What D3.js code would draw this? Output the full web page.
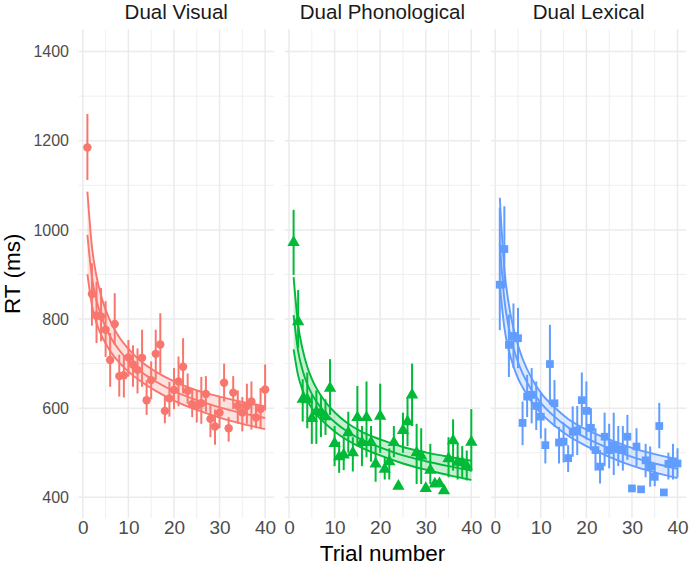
<!DOCTYPE html>
<head>
  <meta charset="utf-8">
</head>
<style>
body {
  margin: 0;
  background: #ffffff;
}
text {
  font-family: "Liberation Sans", Arial, sans-serif;
}
.grid-major {
  stroke: #EBEBEB;
  stroke-width: 1.5;
}
.grid-minor {
  stroke: #EBEBEB;
  stroke-width: 0.8;
}
.tick text {
  fill: #4D4D4D;
}
</style>
<body>
<script src="https://d3js.org/d3.v7.min.js"></script>
<script>
var width = 693,
    height = 573;

// trial numbers and tick labels
var trials = [1, 2, 3, 4, 5, 6, 7, 8, 9, 10, 11, 12, 13, 14, 15, 16, 17, 18, 19, 20,
              21, 22, 23, 24, 25, 26, 27, 28, 29, 30, 31, 32, 33, 34, 35, 36, 37, 38, 39, 40];
var xTicks = [0, 10, 20, 30, 40];
var yTicks = [400, 600, 800, 1000, 1200, 1400];
var panelNames = ["Dual Visual", "Dual Phonological", "Dual Lexical"];

// Dual Visual: mean RT and error bar ends
var visualRT = [1185, 856, 808, 806, 776, 708, 789, 672, 674, 714, 698, 686, 713, 618, 663, 722, 743, 594, 622, 641,
                660, 693, 639, 609, 605, 611, 632, 576, 559, 590, 657, 555, 635, 605, 590, 605, 615, 579, 598, 642];
var visualLo = [1112, 785, 746, 750, 715, 648, 742, 626, 624, 671, 648, 633, 648, 585, 620, 663, 679, 566, 581, 598,
                604, 633, 610, 580, 568, 565, 592, 535, 518, 555, 615, 525, 598, 565, 548, 565, 552, 555, 555, 595];
var visualHi = [1260, 925, 884, 870, 840, 769, 858, 720, 717, 753, 741, 734, 776, 663, 705, 776, 813, 626, 659, 690,
                716, 757, 678, 645, 640, 670, 672, 610, 597, 625, 700, 580, 672, 640, 625, 655, 660, 610, 645, 698];

// Dual Phonological
var phonoRT = [972, 794, 620, 619, 577, 592, 590, 581, 645, 521, 491, 495, 545, 500, 579, 523, 579, 523, 475, 582,
               463, 480, 523, 425, 550, 570, 630, 500, 493, 420, 461, 430, 431, 415, 487, 527, 479, 478, 470, 524];
var phonoLo = [899, 735, 570, 555, 520, 520, 535, 540, 585, 470, 455, 461, 500, 458, 515, 470, 490, 480, 435, 500,
               440, 440, 490, null, 500, 515, 560, 430, 430, null, 430, null, null, null, 445, 460, 440, 445, 438, 458];
var phonoHi = [1045, 865, 665, 680, 630, 640, 630, 620, 710, 560, 525, 536, 592, 535, 650, 560, 660, 560, 515, 655,
               490, 510, 560, null, 590, 625, 700, 565, 555, null, 520, null, null, null, 535, 575, 520, 515, 505, 598];

// Dual Lexical
var lexicalRT = [877, 957, 742, 762, 757, 567, 626, 630, 605, 581, 517, 699, 611, 523, 525, 488, 547, 550, 618, 594,
                 556, 506, 469, 536, 506, 517, 508, 506, 536, 420, 514, 418, 483, 469, 446, 560, 411, 475, 480, 476];
var lexicalLo = [775, 869, 670, 690, 690, 517, 580, 566, 551, 532, 476, 607, 558, 476, 478, 457, 491, 495, 560, 530,
                 505, 460, 431, 470, 465, 450, 470, 460, 484, null, 470, null, 445, 424, 425, 510, null, 440, 440, 445];
var lexicalHi = [1050, 1053, 810, 835, 825, 615, 675, 690, 660, 633, 555, 787, 663, 558, 568, 517, 604, 605, 680, 660,
                 600, 555, 506, 590, 565, 590, 560, 560, 585, null, 555, null, 520, 514, 475, 612, null, 500, 520, 510];

// fitted curves with confidence band, read at these trials
var fitTrials = [1, 2, 3, 4, 5, 6, 8, 10, 13, 16, 20, 25, 30, 35, 40];
var visualFit   = [989, 894, 842, 808, 782, 761, 730, 707, 680, 660, 638, 618, 602, 589, 578];
var visualFitHi = [1086, 962, 896, 853, 821, 796, 759, 733, 703, 682, 660, 640, 626, 614, 604];
var visualFitLo = [900, 831, 791, 765, 745, 728, 702, 682, 658, 639, 617, 596, 579, 565, 553];
var phonoFit    = [809, 728, 684, 654, 632, 615, 589, 569, 546, 529, 512, 494, 481, 470, 460];
var phonoFitHi  = [894, 787, 731, 693, 666, 645, 614, 591, 565, 547, 530, 513, 501, 491, 482];
var phonoFitLo  = [732, 673, 640, 617, 600, 586, 565, 548, 527, 511, 494, 476, 462, 450, 439];
var lexicalFit   = [970, 844, 779, 735, 703, 678, 640, 612, 581, 557, 533, 510, 491, 476, 464];
var lexicalFitHi = [1072, 912, 832, 779, 741, 711, 667, 635, 602, 576, 552, 530, 511, 497, 486];
var lexicalFitLo = [878, 781, 729, 694, 667, 647, 614, 589, 561, 538, 515, 491, 471, 456, 443];

var panels = [
  {name: panelNames[0], colour: "#F8766D", shape: d3.symbolCircle, size: 55,
   rt: visualRT, lo: visualLo, hi: visualHi, fit: visualFit, fitLo: visualFitLo, fitHi: visualFitHi},
  {name: panelNames[1], colour: "#00BA38", shape: d3.symbolTriangle, size: 66,
   rt: phonoRT, lo: phonoLo, hi: phonoHi, fit: phonoFit, fitLo: phonoFitLo, fitHi: phonoFitHi},
  {name: panelNames[2], colour: "#619CFF", shape: d3.symbolSquare, size: 60,
   rt: lexicalRT, lo: lexicalLo, hi: lexicalHi, fit: lexicalFit, fitLo: lexicalFitLo, fitHi: lexicalFitHi}
];

var panelLeft = 78.5,
    panelStep = 206.2,
    panelWidth = 195.5,
    panelTop = 29.3,
    panelBottom = 518.3;

var x = d3.scaleLinear().domain([-0.95, 41.95]).range([0, panelWidth]);
var y = d3.scaleLinear().domain([353, 1450]).range([panelBottom, panelTop]);

var svg = d3.select("body").append("svg")
  .attr("width", width)
  .attr("height", height);

var xMinor = [5, 15, 25, 35];
var yMinor = [500, 700, 900, 1100, 1300];

panels.forEach(function(p, i) {
  var g = svg.append("g")
    .attr("transform", "translate(" + (panelLeft + i * panelStep) + ",0)");

  // grid
  g.selectAll(".ymin").data(yMinor).enter().append("line")
    .attr("class", "grid-minor")
    .attr("x1", 0).attr("x2", panelWidth)
    .attr("y1", function(d) { return y(d); })
    .attr("y2", function(d) { return y(d); });
  g.selectAll(".xmin").data(xMinor).enter().append("line")
    .attr("class", "grid-minor")
    .attr("y1", panelTop).attr("y2", panelBottom)
    .attr("x1", function(d) { return x(d); })
    .attr("x2", function(d) { return x(d); });
  g.selectAll(".ymaj").data(yTicks).enter().append("line")
    .attr("class", "grid-major")
    .attr("x1", 0).attr("x2", panelWidth)
    .attr("y1", function(d) { return y(d); })
    .attr("y2", function(d) { return y(d); });
  g.selectAll(".xmaj").data(xTicks).enter().append("line")
    .attr("class", "grid-major")
    .attr("y1", panelTop).attr("y2", panelBottom)
    .attr("x1", function(d) { return x(d); })
    .attr("x2", function(d) { return x(d); });

  // strip title
  g.append("text")
    .attr("x", panelWidth / 2)
    .attr("y", 18.5)
    .attr("text-anchor", "middle")
    .attr("font-size", 20.5)
    .attr("fill", "#1A1A1A")
    .text(p.name);

  // fitted curve and band
  var fitData = fitTrials.map(function(t, k) {
    return {t: t, m: p.fit[k], lo: p.fitLo[k], hi: p.fitHi[k]};
  });

  var band = d3.area()
    .x(function(d) { return x(d.t); })
    .y0(function(d) { return y(d.lo); })
    .y1(function(d) { return y(d.hi); })
    .curve(d3.curveMonotoneX);

  g.append("path")
    .datum(fitData)
    .attr("d", band)
    .attr("fill", p.colour)
    .attr("fill-opacity", 0.22);

  ["lo", "m", "hi"].forEach(function(key) {
    var line = d3.line()
      .x(function(d) { return x(d.t); })
      .y(function(d) { return y(d[key]); })
      .curve(d3.curveMonotoneX);
    g.append("path")
      .datum(fitData)
      .attr("d", line)
      .attr("fill", "none")
      .attr("stroke", p.colour)
      .attr("stroke-width", 1.9);
  });

  // points with error bars
  var pts = trials.map(function(t, k) {
    return {t: t, rt: p.rt[k], lo: p.lo[k], hi: p.hi[k]};
  });

  g.selectAll(".err")
    .data(pts.filter(function(d) { return d.lo != null; }))
    .enter().append("line")
    .attr("x1", function(d) { return x(d.t); })
    .attr("x2", function(d) { return x(d.t); })
    .attr("y1", function(d) { return y(d.lo); })
    .attr("y2", function(d) { return y(d.hi); })
    .attr("stroke", p.colour)
    .attr("stroke-width", 2);

  g.selectAll(".pt")
    .data(pts)
    .enter().append("path")
    .attr("d", d3.symbol().type(p.shape).size(p.size))
    .attr("transform", function(d) { return "translate(" + x(d.t) + "," + y(d.rt) + ")"; })
    .attr("fill", p.colour);

  // x axis
  var xAxis = g.append("g")
    .attr("transform", "translate(0," + panelBottom + ")")
    .call(d3.axisBottom(x).tickValues(xTicks).tickSize(0).tickPadding(2.5));
  xAxis.select(".domain").remove();
  xAxis.selectAll("text")
    .attr("font-size", 19)
    .attr("font-family", null);

  if (i == 0) {
    var yAxis = g.append("g")
      .call(d3.axisLeft(y).tickValues(yTicks).tickFormat(d3.format("d")).tickSize(0).tickPadding(9.5));
    yAxis.select(".domain").remove();
    yAxis.selectAll("text")
      .attr("font-size", 16)
      .attr("font-family", null);
  }
});

// axis titles
svg.append("text")
  .attr("x", panelLeft + panelStep + panelWidth / 2)
  .attr("y", 561)
  .attr("text-anchor", "middle")
  .attr("font-size", 22.5)
  .attr("fill", "#000000")
  .text("Trial number");

svg.append("text")
  .attr("transform", "translate(20," + ((panelTop + panelBottom) / 2) + ") rotate(-90)")
  .attr("text-anchor", "middle")
  .attr("font-size", 22.5)
  .attr("fill", "#000000")
  .text("RT (ms)");
</script>
</body>
